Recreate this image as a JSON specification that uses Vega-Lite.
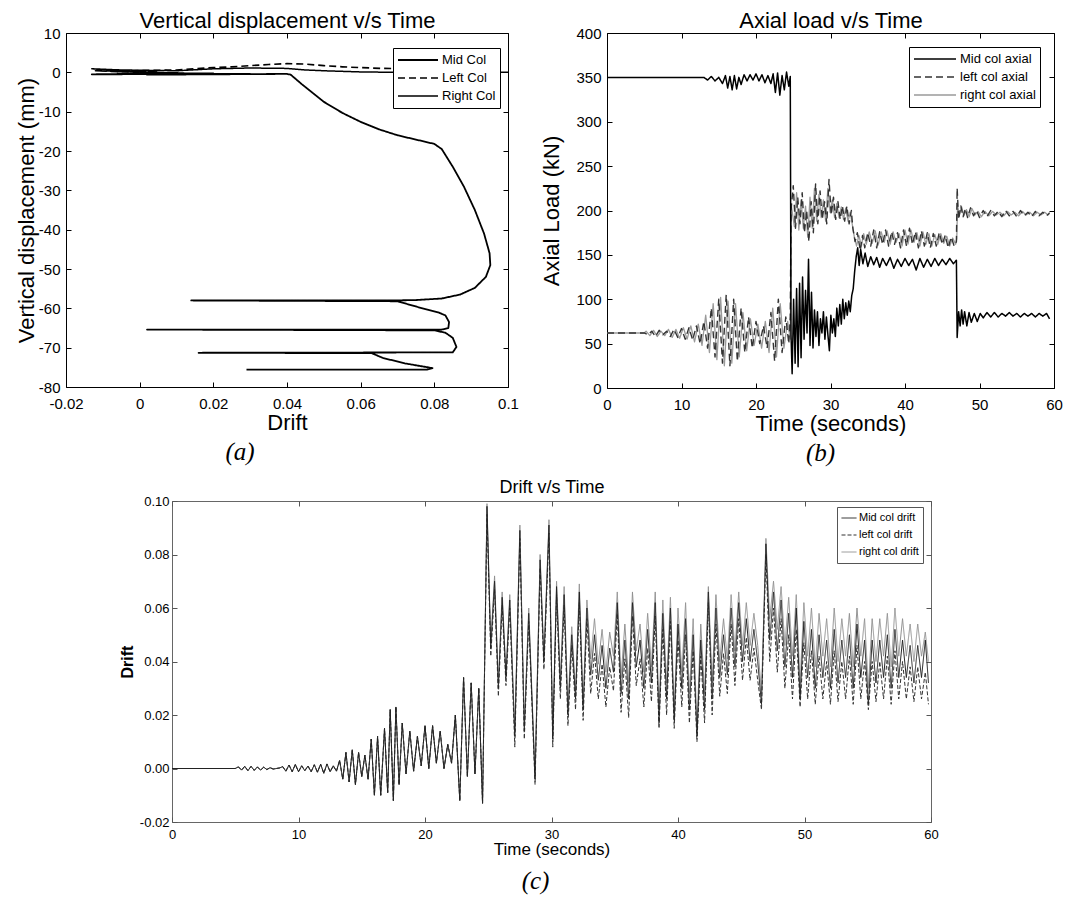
{
"$schema": "https://vega.github.io/schema/vega-lite/v6.json",
"background": "white",
"padding": {"left": 14, "top": 9, "right": 0, "bottom": 0},
"config": {
  "font": "Liberation Sans",
  "view": {"stroke": "black"},
  "axis": {"grid": false, "domain": false, "tickColor": "black", "tickSize": -5, "tickWidth": 1, "labelColor": "black", "titleColor": "black", "titleFontWeight": "normal", "labelFlush": false, "labelOverlap": false, "labelPadding": 8, "labelFont": "Liberation Sans", "titleFont": "Liberation Sans"},
  "title": {"font": "Liberation Serif", "fontStyle": "italic", "fontWeight": "normal", "fontSize": 25, "color": "black", "orient": "bottom", "anchor": "middle"},
  "legend": {"title": null, "strokeColor": "black", "fillColor": "white", "cornerRadius": 0, "labelColor": "black", "symbolType": "stroke"}
},
"datasets": {
"a": [
{"s":"M","d":0,"v":0},{"s":"M","d":0.012,"v":-0.2},{"s":"M","d":-0.006,"v":-0.3},{"s":"M","d":0.02,"v":-0.3},{"s":"M","d":-0.013,"v":-0.5},{"s":"M","d":0.03,"v":-0.4},{"s":"M","d":0.002,"v":-0.6},{"s":"M","d":0.04,"v":-0.4},{"s":"M","d":0.041,"v":-0.6},{"s":"M","d":0.044,"v":-3},{"s":"M","d":0.05,"v":-7.5},{"s":"M","d":0.055,"v":-10.3},{"s":"M","d":0.06,"v":-12.6},{"s":"M","d":0.065,"v":-14.5},{"s":"M","d":0.07,"v":-16},{"s":"M","d":0.075,"v":-17.1},{"s":"M","d":0.08,"v":-18.2},{"s":"M","d":0.082,"v":-19.5},{"s":"M","d":0.085,"v":-24},{"s":"M","d":0.088,"v":-29},{"s":"M","d":0.091,"v":-35},{"s":"M","d":0.0935,"v":-41},{"s":"M","d":0.095,"v":-46},{"s":"M","d":0.0952,"v":-49},{"s":"M","d":0.094,"v":-52},{"s":"M","d":0.091,"v":-54.8},{"s":"M","d":0.087,"v":-56.5},{"s":"M","d":0.082,"v":-57.5},{"s":"M","d":0.075,"v":-57.9},{"s":"M","d":0.068,"v":-58},{"s":"M","d":0.014,"v":-58},{"s":"M","d":0.07,"v":-58.2},{"s":"M","d":0.076,"v":-59.8},{"s":"M","d":0.081,"v":-61},{"s":"M","d":0.083,"v":-61.8},{"s":"M","d":0.084,"v":-63.5},{"s":"M","d":0.0838,"v":-65},{"s":"M","d":0.082,"v":-65.4},{"s":"M","d":0.002,"v":-65.4},{"s":"M","d":0.08,"v":-65.6},{"s":"M","d":0.083,"v":-66.2},{"s":"M","d":0.085,"v":-67.5},{"s":"M","d":0.086,"v":-69.8},{"s":"M","d":0.085,"v":-71.2},{"s":"M","d":0.016,"v":-71.3},{"s":"M","d":0.063,"v":-71.4},{"s":"M","d":0.066,"v":-72.6},{"s":"M","d":0.072,"v":-74},{"s":"M","d":0.0795,"v":-75.2},{"s":"M","d":0.078,"v":-75.6},{"s":"M","d":0.029,"v":-75.6},
{"s":"L","d":0,"v":0},{"s":"L","d":-0.012,"v":0.4},{"s":"L","d":0.005,"v":0.2},{"s":"L","d":-0.008,"v":0.3},{"s":"L","d":0.01,"v":0.6},{"s":"L","d":0.015,"v":0.9},{"s":"L","d":0.02,"v":1.2},{"s":"L","d":0.025,"v":1.4},{"s":"L","d":0.03,"v":1.7},{"s":"L","d":0.035,"v":2.0},{"s":"L","d":0.04,"v":2.2},{"s":"L","d":0.045,"v":2.1},{"s":"L","d":0.05,"v":1.7},{"s":"L","d":0.055,"v":1.4},{"s":"L","d":0.06,"v":1.2},{"s":"L","d":0.066,"v":1.0},{"s":"L","d":0.08,"v":0.9},{"s":"L","d":0.094,"v":0.8},
{"s":"R","d":0,"v":0},{"s":"R","d":-0.013,"v":0.9},{"s":"R","d":-0.005,"v":0.6},{"s":"R","d":0.01,"v":0.4},{"s":"R","d":0.02,"v":0.9},{"s":"R","d":0.03,"v":1.1},{"s":"R","d":0.04,"v":1.0},{"s":"R","d":0.045,"v":0.6},{"s":"R","d":0.05,"v":0.4},{"s":"R","d":0.06,"v":0.1},{"s":"R","d":0.07,"v":0},{"s":"R","d":0.1,"v":0}
],
"b": [
{"s":"R","t":0,"v":62},{"s":"R","t":5,"v":62},{"s":"R","t":5.25,"v":64},{"s":"R","t":5.75,"v":59},{"s":"R","t":6.25,"v":65},{"s":"R","t":6.75,"v":58},{"s":"R","t":7.25,"v":64},{"s":"R","t":7.75,"v":59},{"s":"R","t":8.25,"v":66},{"s":"R","t":8.75,"v":57},{"s":"R","t":9.25,"v":66},{"s":"R","t":9.75,"v":56},{"s":"R","t":10.25,"v":68},{"s":"R","t":10.75,"v":55},{"s":"R","t":11.25,"v":70},{"s":"R","t":11.75,"v":52},{"s":"R","t":12.25,"v":72},{"s":"R","t":12.75,"v":48},{"s":"R","t":13.25,"v":82},{"s":"R","t":13.75,"v":40},{"s":"R","t":14.25,"v":95},{"s":"R","t":14.75,"v":32},{"s":"R","t":15.25,"v":102},{"s":"R","t":15.75,"v":25},{"s":"R","t":16.25,"v":98},{"s":"R","t":16.75,"v":28},{"s":"R","t":17.25,"v":95},{"s":"R","t":17.75,"v":35},{"s":"R","t":18.25,"v":85},{"s":"R","t":18.75,"v":42},{"s":"R","t":19.25,"v":78},{"s":"R","t":19.75,"v":48},{"s":"R","t":20.25,"v":72},{"s":"R","t":20.75,"v":45},{"s":"R","t":21.25,"v":75},{"s":"R","t":21.75,"v":40},{"s":"R","t":22.25,"v":90},{"s":"R","t":22.75,"v":35},{"s":"R","t":23.25,"v":95},{"s":"R","t":23.75,"v":45},{"s":"R","t":24.25,"v":75},{"s":"R","t":24.6,"v":55},{"s":"R","t":24.75,"v":205},{"s":"R","t":25.15,"v":182},{"s":"R","t":25.45,"v":220},{"s":"R","t":25.75,"v":178},{"s":"R","t":26.05,"v":212},{"s":"R","t":26.35,"v":180},{"s":"R","t":26.65,"v":205},{"s":"R","t":26.95,"v":170},{"s":"R","t":27.25,"v":215},{"s":"R","t":27.55,"v":180},{"s":"R","t":27.85,"v":225},{"s":"R","t":28.15,"v":188},{"s":"R","t":28.45,"v":218},{"s":"R","t":28.75,"v":192},{"s":"R","t":29.05,"v":212},{"s":"R","t":29.35,"v":188},{"s":"R","t":29.65,"v":225},{"s":"R","t":29.95,"v":198},{"s":"R","t":30.25,"v":212},{"s":"R","t":30.55,"v":192},{"s":"R","t":30.85,"v":208},{"s":"R","t":31.15,"v":192},{"s":"R","t":31.45,"v":204},{"s":"R","t":31.75,"v":190},{"s":"R","t":32.05,"v":203},{"s":"R","t":32.35,"v":188},{"s":"R","t":32.65,"v":198},{"s":"R","t":32.95,"v":183},{"s":"R","t":33.2,"v":170},{"s":"R","t":33.5,"v":160},{"s":"R","t":33.8,"v":172},{"s":"R","t":34.15,"v":160},{"s":"R","t":34.45,"v":174},{"s":"R","t":34.8,"v":162},{"s":"R","t":35.2,"v":176},{"s":"R","t":35.6,"v":163},{"s":"R","t":36,"v":177},{"s":"R","t":36.4,"v":161},{"s":"R","t":36.8,"v":176},{"s":"R","t":37.2,"v":164},{"s":"R","t":37.6,"v":177},{"s":"R","t":38,"v":162},{"s":"R","t":38.4,"v":176},{"s":"R","t":38.8,"v":164},{"s":"R","t":39.2,"v":174},{"s":"R","t":39.6,"v":160},{"s":"R","t":40,"v":178},{"s":"R","t":40.4,"v":162},{"s":"R","t":40.8,"v":178},{"s":"R","t":41.2,"v":164},{"s":"R","t":41.6,"v":175},{"s":"R","t":42,"v":160},{"s":"R","t":42.4,"v":176},{"s":"R","t":42.8,"v":162},{"s":"R","t":43.2,"v":174},{"s":"R","t":43.6,"v":160},{"s":"R","t":44,"v":173},{"s":"R","t":44.4,"v":162},{"s":"R","t":44.8,"v":174},{"s":"R","t":45.2,"v":163},{"s":"R","t":45.6,"v":171},{"s":"R","t":46,"v":160},{"s":"R","t":46.4,"v":169},{"s":"R","t":46.8,"v":162},{"s":"R","t":46.95,"v":168},{"s":"R","t":47.05,"v":205},{"s":"R","t":47.3,"v":196},{"s":"R","t":47.6,"v":204},{"s":"R","t":47.9,"v":194},{"s":"R","t":48.25,"v":201},{"s":"R","t":48.6,"v":193},{"s":"R","t":49,"v":202},{"s":"R","t":49.4,"v":195},{"s":"R","t":49.8,"v":199},{"s":"R","t":50.25,"v":193},{"s":"R","t":50.75,"v":199},{"s":"R","t":51.25,"v":194},{"s":"R","t":51.75,"v":199},{"s":"R","t":52.25,"v":195},{"s":"R","t":52.75,"v":198},{"s":"R","t":53.25,"v":194},{"s":"R","t":53.75,"v":199},{"s":"R","t":54.25,"v":195},{"s":"R","t":54.75,"v":198},{"s":"R","t":55.25,"v":194},{"s":"R","t":55.75,"v":199},{"s":"R","t":56.25,"v":195},{"s":"R","t":56.75,"v":198},{"s":"R","t":57.25,"v":194},{"s":"R","t":57.75,"v":198},{"s":"R","t":58.25,"v":195},{"s":"R","t":58.75,"v":198},{"s":"R","t":59.2,"v":195},{"s":"R","t":59.4,"v":198},
{"s":"L","t":0,"v":62},{"s":"L","t":5,"v":62},{"s":"L","t":5.5,"v":60},{"s":"L","t":6,"v":64},{"s":"L","t":6.5,"v":58},{"s":"L","t":7,"v":65},{"s":"L","t":7.5,"v":60},{"s":"L","t":8,"v":64},{"s":"L","t":8.5,"v":58},{"s":"L","t":9,"v":66},{"s":"L","t":9.5,"v":57},{"s":"L","t":10,"v":67},{"s":"L","t":10.5,"v":55},{"s":"L","t":11,"v":68},{"s":"L","t":11.5,"v":54},{"s":"L","t":12,"v":70},{"s":"L","t":12.5,"v":50},{"s":"L","t":13,"v":75},{"s":"L","t":13.5,"v":45},{"s":"L","t":14,"v":90},{"s":"L","t":14.5,"v":35},{"s":"L","t":15,"v":100},{"s":"L","t":15.5,"v":28},{"s":"L","t":16,"v":105},{"s":"L","t":16.5,"v":25},{"s":"L","t":17,"v":100},{"s":"L","t":17.5,"v":30},{"s":"L","t":18,"v":90},{"s":"L","t":18.5,"v":40},{"s":"L","t":19,"v":80},{"s":"L","t":19.5,"v":45},{"s":"L","t":20,"v":75},{"s":"L","t":20.5,"v":50},{"s":"L","t":21,"v":70},{"s":"L","t":21.5,"v":45},{"s":"L","t":22,"v":85},{"s":"L","t":22.5,"v":30},{"s":"L","t":23,"v":100},{"s":"L","t":23.5,"v":40},{"s":"L","t":24,"v":80},{"s":"L","t":24.4,"v":50},{"s":"L","t":24.6,"v":80},{"s":"L","t":24.7,"v":200},{"s":"L","t":25,"v":228},{"s":"L","t":25.3,"v":180},{"s":"L","t":25.6,"v":215},{"s":"L","t":25.9,"v":185},{"s":"L","t":26.2,"v":220},{"s":"L","t":26.5,"v":175},{"s":"L","t":26.8,"v":200},{"s":"L","t":27.1,"v":165},{"s":"L","t":27.4,"v":210},{"s":"L","t":27.7,"v":175},{"s":"L","t":28,"v":230},{"s":"L","t":28.3,"v":185},{"s":"L","t":28.6,"v":222},{"s":"L","t":28.9,"v":190},{"s":"L","t":29.2,"v":210},{"s":"L","t":29.5,"v":185},{"s":"L","t":29.8,"v":235},{"s":"L","t":30.1,"v":195},{"s":"L","t":30.4,"v":215},{"s":"L","t":30.7,"v":190},{"s":"L","t":31,"v":210},{"s":"L","t":31.3,"v":190},{"s":"L","t":31.6,"v":205},{"s":"L","t":31.9,"v":188},{"s":"L","t":32.2,"v":205},{"s":"L","t":32.5,"v":185},{"s":"L","t":32.8,"v":200},{"s":"L","t":33,"v":180},{"s":"L","t":33.3,"v":165},{"s":"L","t":33.6,"v":175},{"s":"L","t":34,"v":155},{"s":"L","t":34.3,"v":172},{"s":"L","t":34.6,"v":158},{"s":"L","t":35,"v":175},{"s":"L","t":35.4,"v":160},{"s":"L","t":35.8,"v":178},{"s":"L","t":36.2,"v":158},{"s":"L","t":36.6,"v":176},{"s":"L","t":37,"v":162},{"s":"L","t":37.4,"v":178},{"s":"L","t":37.8,"v":160},{"s":"L","t":38.2,"v":176},{"s":"L","t":38.6,"v":162},{"s":"L","t":39,"v":175},{"s":"L","t":39.4,"v":158},{"s":"L","t":39.8,"v":178},{"s":"L","t":40.2,"v":160},{"s":"L","t":40.6,"v":180},{"s":"L","t":41,"v":162},{"s":"L","t":41.4,"v":176},{"s":"L","t":41.8,"v":158},{"s":"L","t":42.2,"v":177},{"s":"L","t":42.6,"v":160},{"s":"L","t":43,"v":175},{"s":"L","t":43.4,"v":158},{"s":"L","t":43.8,"v":174},{"s":"L","t":44.2,"v":160},{"s":"L","t":44.6,"v":175},{"s":"L","t":45,"v":162},{"s":"L","t":45.4,"v":172},{"s":"L","t":45.8,"v":158},{"s":"L","t":46.2,"v":170},{"s":"L","t":46.6,"v":160},{"s":"L","t":46.9,"v":165},{"s":"L","t":47,"v":225},{"s":"L","t":47.2,"v":190},{"s":"L","t":47.5,"v":205},{"s":"L","t":47.8,"v":193},{"s":"L","t":48.1,"v":202},{"s":"L","t":48.4,"v":192},{"s":"L","t":48.8,"v":203},{"s":"L","t":49.2,"v":194},{"s":"L","t":49.6,"v":200},{"s":"L","t":50,"v":192},{"s":"L","t":50.5,"v":200},{"s":"L","t":51,"v":193},{"s":"L","t":51.5,"v":200},{"s":"L","t":52,"v":194},{"s":"L","t":52.5,"v":199},{"s":"L","t":53,"v":193},{"s":"L","t":53.5,"v":200},{"s":"L","t":54,"v":194},{"s":"L","t":54.5,"v":199},{"s":"L","t":55,"v":193},{"s":"L","t":55.5,"v":200},{"s":"L","t":56,"v":194},{"s":"L","t":56.5,"v":198},{"s":"L","t":57,"v":193},{"s":"L","t":57.5,"v":199},{"s":"L","t":58,"v":194},{"s":"L","t":58.5,"v":198},{"s":"L","t":59,"v":194},{"s":"L","t":59.4,"v":197},
{"s":"M","t":0,"v":350},{"s":"M","t":13,"v":350},{"s":"M","t":13.5,"v":347},{"s":"M","t":14,"v":351},{"s":"M","t":14.5,"v":346},{"s":"M","t":15,"v":350},{"s":"M","t":15.5,"v":343},{"s":"M","t":15.9,"v":352},{"s":"M","t":16.2,"v":338},{"s":"M","t":16.5,"v":351},{"s":"M","t":16.8,"v":336},{"s":"M","t":17.1,"v":352},{"s":"M","t":17.4,"v":337},{"s":"M","t":17.7,"v":350},{"s":"M","t":18,"v":342},{"s":"M","t":18.4,"v":353},{"s":"M","t":18.8,"v":346},{"s":"M","t":19.2,"v":353},{"s":"M","t":19.6,"v":347},{"s":"M","t":20,"v":354},{"s":"M","t":20.4,"v":346},{"s":"M","t":20.8,"v":353},{"s":"M","t":21.2,"v":344},{"s":"M","t":21.6,"v":352},{"s":"M","t":22,"v":343},{"s":"M","t":22.3,"v":354},{"s":"M","t":22.6,"v":333},{"s":"M","t":22.9,"v":355},{"s":"M","t":23.2,"v":330},{"s":"M","t":23.5,"v":352},{"s":"M","t":23.8,"v":336},{"s":"M","t":24.1,"v":356},{"s":"M","t":24.4,"v":340},{"s":"M","t":24.6,"v":351},{"s":"M","t":24.7,"v":60},{"s":"M","t":24.85,"v":16},{"s":"M","t":25.05,"v":100},{"s":"M","t":25.25,"v":28},{"s":"M","t":25.45,"v":112},{"s":"M","t":25.65,"v":24},{"s":"M","t":25.85,"v":118},{"s":"M","t":26.05,"v":34},{"s":"M","t":26.25,"v":125},{"s":"M","t":26.45,"v":55},{"s":"M","t":26.65,"v":110},{"s":"M","t":26.85,"v":62},{"s":"M","t":27.05,"v":145},{"s":"M","t":27.25,"v":48},{"s":"M","t":27.45,"v":108},{"s":"M","t":27.65,"v":45},{"s":"M","t":27.85,"v":88},{"s":"M","t":28.05,"v":58},{"s":"M","t":28.25,"v":86},{"s":"M","t":28.45,"v":48},{"s":"M","t":28.65,"v":78},{"s":"M","t":28.85,"v":62},{"s":"M","t":29.05,"v":86},{"s":"M","t":29.25,"v":55},{"s":"M","t":29.45,"v":80},{"s":"M","t":29.65,"v":60},{"s":"M","t":29.85,"v":42},{"s":"M","t":30.05,"v":82},{"s":"M","t":30.25,"v":62},{"s":"M","t":30.45,"v":78},{"s":"M","t":30.65,"v":58},{"s":"M","t":30.85,"v":90},{"s":"M","t":31.05,"v":70},{"s":"M","t":31.25,"v":94},{"s":"M","t":31.45,"v":72},{"s":"M","t":31.65,"v":100},{"s":"M","t":31.85,"v":78},{"s":"M","t":32.05,"v":96},{"s":"M","t":32.25,"v":82},{"s":"M","t":32.45,"v":98},{"s":"M","t":32.65,"v":86},{"s":"M","t":32.85,"v":104},{"s":"M","t":33.05,"v":112},{"s":"M","t":33.25,"v":132},{"s":"M","t":33.45,"v":148},{"s":"M","t":33.65,"v":158},{"s":"M","t":33.85,"v":138},{"s":"M","t":34.05,"v":156},{"s":"M","t":34.35,"v":140},{"s":"M","t":34.65,"v":152},{"s":"M","t":35,"v":137},{"s":"M","t":35.4,"v":148},{"s":"M","t":35.8,"v":139},{"s":"M","t":36.2,"v":147},{"s":"M","t":36.6,"v":136},{"s":"M","t":37,"v":146},{"s":"M","t":37.5,"v":138},{"s":"M","t":38,"v":147},{"s":"M","t":38.5,"v":135},{"s":"M","t":39,"v":145},{"s":"M","t":39.5,"v":137},{"s":"M","t":40,"v":146},{"s":"M","t":40.5,"v":138},{"s":"M","t":41,"v":145},{"s":"M","t":41.5,"v":133},{"s":"M","t":42,"v":146},{"s":"M","t":42.5,"v":136},{"s":"M","t":43,"v":145},{"s":"M","t":43.5,"v":137},{"s":"M","t":44,"v":146},{"s":"M","t":44.5,"v":138},{"s":"M","t":45,"v":145},{"s":"M","t":45.5,"v":139},{"s":"M","t":46,"v":146},{"s":"M","t":46.5,"v":140},{"s":"M","t":46.9,"v":144},{"s":"M","t":47,"v":57},{"s":"M","t":47.2,"v":86},{"s":"M","t":47.4,"v":70},{"s":"M","t":47.6,"v":88},{"s":"M","t":47.8,"v":72},{"s":"M","t":48,"v":86},{"s":"M","t":48.3,"v":70},{"s":"M","t":48.6,"v":85},{"s":"M","t":48.9,"v":74},{"s":"M","t":49.3,"v":84},{"s":"M","t":49.7,"v":75},{"s":"M","t":50.1,"v":84},{"s":"M","t":50.5,"v":79},{"s":"M","t":51,"v":85},{"s":"M","t":51.5,"v":80},{"s":"M","t":52,"v":85},{"s":"M","t":52.5,"v":80},{"s":"M","t":53,"v":84},{"s":"M","t":53.5,"v":81},{"s":"M","t":54,"v":85},{"s":"M","t":54.5,"v":81},{"s":"M","t":55,"v":84},{"s":"M","t":55.5,"v":80},{"s":"M","t":56,"v":84},{"s":"M","t":56.5,"v":81},{"s":"M","t":57,"v":84},{"s":"M","t":57.5,"v":80},{"s":"M","t":58,"v":84},{"s":"M","t":58.5,"v":81},{"s":"M","t":59,"v":84},{"s":"M","t":59.4,"v":78}
],
"c": [
{"s":"R","t":0,"v":0},{"s":"R","t":5,"v":0},{"s":"R","t":5.25,"v":0.0006},{"s":"R","t":5.5,"v":-0.0006},{"s":"R","t":5.75,"v":0.0008},{"s":"R","t":6,"v":-0.0008},{"s":"R","t":6.25,"v":0.0008},{"s":"R","t":6.5,"v":-0.0007},{"s":"R","t":6.75,"v":0.0006},{"s":"R","t":7,"v":-0.0006},{"s":"R","t":7.25,"v":0.0005},{"s":"R","t":7.5,"v":-0.0004},{"s":"R","t":7.75,"v":0.0003},{"s":"R","t":8,"v":-0.0002},{"s":"R","t":8.5,"v":0.0002},{"s":"R","t":8.75,"v":0.0007},{"s":"R","t":9,"v":-0.001},{"s":"R","t":9.25,"v":0.0013},{"s":"R","t":9.5,"v":-0.0012},{"s":"R","t":9.75,"v":0.0015},{"s":"R","t":10,"v":-0.0012},{"s":"R","t":10.25,"v":0.001},{"s":"R","t":10.5,"v":-0.0008},{"s":"R","t":10.75,"v":0.0009},{"s":"R","t":11,"v":-0.0012},{"s":"R","t":11.25,"v":0.0014},{"s":"R","t":11.5,"v":-0.0014},{"s":"R","t":11.75,"v":0.0016},{"s":"R","t":12,"v":-0.0018},{"s":"R","t":12.25,"v":0.0017},{"s":"R","t":12.5,"v":-0.0012},{"s":"R","t":12.75,"v":0.001},{"s":"R","t":13,"v":-0.001},{"s":"R","t":13.25,"v":0.003},{"s":"R","t":13.5,"v":-0.004},{"s":"R","t":13.75,"v":0.006},{"s":"R","t":14,"v":-0.005},{"s":"R","t":14.25,"v":0.007},{"s":"R","t":14.5,"v":-0.006},{"s":"R","t":14.75,"v":0.006},{"s":"R","t":15,"v":-0.003},{"s":"R","t":15.25,"v":0.005},{"s":"R","t":15.5,"v":-0.004},{"s":"R","t":15.75,"v":0.011},{"s":"R","t":16,"v":-0.01},{"s":"R","t":16.25,"v":0.012},{"s":"R","t":16.5,"v":-0.01},{"s":"R","t":16.8,"v":0.015},{"s":"R","t":17.05,"v":-0.009},{"s":"R","t":17.25,"v":0.022},{"s":"R","t":17.5,"v":-0.012},{"s":"R","t":17.7,"v":0.023},{"s":"R","t":17.95,"v":-0.006},{"s":"R","t":18.2,"v":0.017},{"s":"R","t":18.5,"v":-0.002},{"s":"R","t":18.8,"v":0.014},{"s":"R","t":19.1,"v":-0.001},{"s":"R","t":19.4,"v":0.012},{"s":"R","t":19.7,"v":0.001},{"s":"R","t":20,"v":0.016},{"s":"R","t":20.3,"v":0},{"s":"R","t":20.6,"v":0.016},{"s":"R","t":20.9,"v":0.002},{"s":"R","t":21.2,"v":0.014},{"s":"R","t":21.5,"v":0},{"s":"R","t":21.8,"v":0.009},{"s":"R","t":22.1,"v":0.002},{"s":"R","t":22.4,"v":0.02},{"s":"R","t":22.75,"v":-0.012},{"s":"R","t":23.05,"v":0.034},{"s":"R","t":23.35,"v":-0.003},{"s":"R","t":23.65,"v":0.032},{"s":"R","t":23.95,"v":-0.002},{"s":"R","t":24.25,"v":0.03},{"s":"R","t":24.55,"v":-0.013},
{"s":"R","t":24.9,"v":0.099},{"s":"R","t":25.2,"v":0.047},{"s":"R","t":25.5,"v":0.072},{"s":"R","t":25.8,"v":0.032},{"s":"R","t":26.1,"v":0.066},{"s":"R","t":26.4,"v":0.036},{"s":"R","t":26.7,"v":0.065},{"s":"R","t":27.1,"v":0.014},{"s":"R","t":27.5,"v":0.091},{"s":"R","t":27.85,"v":0.016},{"s":"R","t":28.2,"v":0.06},{"s":"R","t":28.7,"v":-0.002},{"s":"R","t":29.1,"v":0.08},{"s":"R","t":29.4,"v":0.042},{"s":"R","t":29.8,"v":0.093},{"s":"R","t":30.1,"v":0.013},{"s":"R","t":30.4,"v":0.07},{"s":"R","t":30.7,"v":0.033},{"s":"R","t":31,"v":0.068},{"s":"R","t":31.3,"v":0.023},{"s":"R","t":31.6,"v":0.053},{"s":"R","t":31.9,"v":0.029},{"s":"R","t":32.2,"v":0.069},{"s":"R","t":32.5,"v":0.025},{"s":"R","t":32.8,"v":0.063},{"s":"R","t":33.1,"v":0.041},{"s":"R","t":33.4,"v":0.056},{"s":"R","t":33.7,"v":0.039},{"s":"R","t":34,"v":0.052},{"s":"R","t":34.3,"v":0.036},{"s":"R","t":34.6,"v":0.051},{"s":"R","t":34.9,"v":0.042},{"s":"R","t":35.2,"v":0.066},{"s":"R","t":35.5,"v":0.034},{"s":"R","t":35.8,"v":0.054},{"s":"R","t":36.1,"v":0.032},{"s":"R","t":36.4,"v":0.066},{"s":"R","t":36.7,"v":0.044},{"s":"R","t":37,"v":0.054},{"s":"R","t":37.3,"v":0.036},{"s":"R","t":37.6,"v":0.058},{"s":"R","t":37.9,"v":0.038},{"s":"R","t":38.2,"v":0.066},{"s":"R","t":38.5,"v":0.022},{"s":"R","t":38.8,"v":0.063},{"s":"R","t":39.1,"v":0.032},{"s":"R","t":39.4,"v":0.064},{"s":"R","t":39.7,"v":0.022},{"s":"R","t":40,"v":0.06},{"s":"R","t":40.3,"v":0.036},{"s":"R","t":40.6,"v":0.062},{"s":"R","t":40.9,"v":0.028},{"s":"R","t":41.2,"v":0.056},{"s":"R","t":41.5,"v":0.016},{"s":"R","t":41.8,"v":0.054},{"s":"R","t":42.1,"v":0.028},{"s":"R","t":42.4,"v":0.068},{"s":"R","t":42.7,"v":0.032},{"s":"R","t":43,"v":0.065},{"s":"R","t":43.3,"v":0.04},{"s":"R","t":43.6,"v":0.056},{"s":"R","t":43.9,"v":0.041},{"s":"R","t":44.2,"v":0.065},{"s":"R","t":44.5,"v":0.044},{"s":"R","t":44.8,"v":0.066},{"s":"R","t":45.1,"v":0.046},{"s":"R","t":45.4,"v":0.062},{"s":"R","t":45.7,"v":0.046},{"s":"R","t":46,"v":0.058},{"s":"R","t":46.3,"v":0.046},{"s":"R","t":46.6,"v":0.028},{"s":"R","t":46.95,"v":0.086},{"s":"R","t":47.25,"v":0.056},{"s":"R","t":47.55,"v":0.07},{"s":"R","t":47.85,"v":0.052},{"s":"R","t":48.15,"v":0.068},{"s":"R","t":48.45,"v":0.046},{"s":"R","t":48.75,"v":0.064},{"s":"R","t":49.05,"v":0.042},{"s":"R","t":49.35,"v":0.065},{"s":"R","t":49.65,"v":0.032},{"s":"R","t":49.95,"v":0.062},{"s":"R","t":50.25,"v":0.042},{"s":"R","t":50.55,"v":0.06},{"s":"R","t":50.85,"v":0.038},{"s":"R","t":51.15,"v":0.058},{"s":"R","t":51.45,"v":0.042},{"s":"R","t":51.75,"v":0.056},{"s":"R","t":52.05,"v":0.038},{"s":"R","t":52.35,"v":0.06},{"s":"R","t":52.65,"v":0.04},{"s":"R","t":52.95,"v":0.056},{"s":"R","t":53.25,"v":0.042},{"s":"R","t":53.55,"v":0.058},{"s":"R","t":53.85,"v":0.038},{"s":"R","t":54.15,"v":0.06},{"s":"R","t":54.45,"v":0.042},{"s":"R","t":54.75,"v":0.056},{"s":"R","t":55.05,"v":0.03},{"s":"R","t":55.35,"v":0.056},{"s":"R","t":55.65,"v":0.04},{"s":"R","t":55.95,"v":0.056},{"s":"R","t":56.25,"v":0.042},{"s":"R","t":56.55,"v":0.058},{"s":"R","t":56.85,"v":0.038},{"s":"R","t":57.15,"v":0.06},{"s":"R","t":57.45,"v":0.042},{"s":"R","t":57.75,"v":0.056},{"s":"R","t":58.05,"v":0.042},{"s":"R","t":58.35,"v":0.054},{"s":"R","t":58.65,"v":0.04},{"s":"R","t":58.95,"v":0.054},{"s":"R","t":59.25,"v":0.042},{"s":"R","t":59.55,"v":0.051},{"s":"R","t":59.8,"v":0.04},
{"s":"L","t":0,"v":0},{"s":"L","t":5,"v":0},{"s":"L","t":5.25,"v":0.0006},{"s":"L","t":5.5,"v":-0.0006},{"s":"L","t":5.75,"v":0.0008},{"s":"L","t":6,"v":-0.0008},{"s":"L","t":6.25,"v":0.0008},{"s":"L","t":6.5,"v":-0.0007},{"s":"L","t":6.75,"v":0.0006},{"s":"L","t":7,"v":-0.0006},{"s":"L","t":7.25,"v":0.0005},{"s":"L","t":7.5,"v":-0.0004},{"s":"L","t":7.75,"v":0.0003},{"s":"L","t":8,"v":-0.0002},{"s":"L","t":8.5,"v":0.0002},{"s":"L","t":8.75,"v":0.0007},{"s":"L","t":9,"v":-0.001},{"s":"L","t":9.25,"v":0.0013},{"s":"L","t":9.5,"v":-0.0012},{"s":"L","t":9.75,"v":0.0015},{"s":"L","t":10,"v":-0.0012},{"s":"L","t":10.25,"v":0.001},{"s":"L","t":10.5,"v":-0.0008},{"s":"L","t":10.75,"v":0.0009},{"s":"L","t":11,"v":-0.0012},{"s":"L","t":11.25,"v":0.0014},{"s":"L","t":11.5,"v":-0.0014},{"s":"L","t":11.75,"v":0.0016},{"s":"L","t":12,"v":-0.0018},{"s":"L","t":12.25,"v":0.0017},{"s":"L","t":12.5,"v":-0.0012},{"s":"L","t":12.75,"v":0.001},{"s":"L","t":13,"v":-0.001},{"s":"L","t":13.25,"v":0.003},{"s":"L","t":13.5,"v":-0.004},{"s":"L","t":13.75,"v":0.006},{"s":"L","t":14,"v":-0.005},{"s":"L","t":14.25,"v":0.007},{"s":"L","t":14.5,"v":-0.006},{"s":"L","t":14.75,"v":0.006},{"s":"L","t":15,"v":-0.003},{"s":"L","t":15.25,"v":0.005},{"s":"L","t":15.5,"v":-0.004},{"s":"L","t":15.75,"v":0.011},{"s":"L","t":16,"v":-0.01},{"s":"L","t":16.25,"v":0.012},{"s":"L","t":16.5,"v":-0.01},{"s":"L","t":16.8,"v":0.015},{"s":"L","t":17.05,"v":-0.009},{"s":"L","t":17.25,"v":0.022},{"s":"L","t":17.5,"v":-0.012},{"s":"L","t":17.7,"v":0.023},{"s":"L","t":17.95,"v":-0.006},{"s":"L","t":18.2,"v":0.017},{"s":"L","t":18.5,"v":-0.002},{"s":"L","t":18.8,"v":0.014},{"s":"L","t":19.1,"v":-0.001},{"s":"L","t":19.4,"v":0.012},{"s":"L","t":19.7,"v":0.001},{"s":"L","t":20,"v":0.016},{"s":"L","t":20.3,"v":0},{"s":"L","t":20.6,"v":0.016},{"s":"L","t":20.9,"v":0.002},{"s":"L","t":21.2,"v":0.014},{"s":"L","t":21.5,"v":0},{"s":"L","t":21.8,"v":0.009},{"s":"L","t":22.1,"v":0.002},{"s":"L","t":22.4,"v":0.02},{"s":"L","t":22.75,"v":-0.012},{"s":"L","t":23.05,"v":0.034},{"s":"L","t":23.35,"v":-0.003},{"s":"L","t":23.65,"v":0.032},{"s":"L","t":23.95,"v":-0.002},{"s":"L","t":24.25,"v":0.03},{"s":"L","t":24.55,"v":-0.013},
{"s":"L","t":24.9,"v":0.095},{"s":"L","t":25.2,"v":0.042},{"s":"L","t":25.5,"v":0.067},{"s":"L","t":25.8,"v":0.027},{"s":"L","t":26.1,"v":0.061},{"s":"L","t":26.4,"v":0.031},{"s":"L","t":26.7,"v":0.06},{"s":"L","t":27.1,"v":0.008},{"s":"L","t":27.5,"v":0.086},{"s":"L","t":27.85,"v":0.011},{"s":"L","t":28.2,"v":0.055},{"s":"L","t":28.7,"v":-0.006},{"s":"L","t":29.1,"v":0.075},{"s":"L","t":29.4,"v":0.037},{"s":"L","t":29.8,"v":0.088},{"s":"L","t":30.1,"v":0.008},{"s":"L","t":30.4,"v":0.065},{"s":"L","t":30.7,"v":0.026},{"s":"L","t":31,"v":0.061},{"s":"L","t":31.3,"v":0.016},{"s":"L","t":31.6,"v":0.046},{"s":"L","t":31.9,"v":0.022},{"s":"L","t":32.2,"v":0.062},{"s":"L","t":32.5,"v":0.018},{"s":"L","t":32.8,"v":0.056},{"s":"L","t":33.1,"v":0.028},{"s":"L","t":33.4,"v":0.043},{"s":"L","t":33.7,"v":0.026},{"s":"L","t":34,"v":0.039},{"s":"L","t":34.3,"v":0.023},{"s":"L","t":34.6,"v":0.038},{"s":"L","t":34.9,"v":0.029},{"s":"L","t":35.2,"v":0.058},{"s":"L","t":35.5,"v":0.021},{"s":"L","t":35.8,"v":0.041},{"s":"L","t":36.1,"v":0.019},{"s":"L","t":36.4,"v":0.057},{"s":"L","t":36.7,"v":0.031},{"s":"L","t":37,"v":0.041},{"s":"L","t":37.3,"v":0.023},{"s":"L","t":37.6,"v":0.045},{"s":"L","t":37.9,"v":0.025},{"s":"L","t":38.2,"v":0.057},{"s":"L","t":38.5,"v":0.015},{"s":"L","t":38.8,"v":0.052},{"s":"L","t":39.1,"v":0.02},{"s":"L","t":39.4,"v":0.055},{"s":"L","t":39.7,"v":0.015},{"s":"L","t":40,"v":0.048},{"s":"L","t":40.3,"v":0.023},{"s":"L","t":40.6,"v":0.05},{"s":"L","t":40.9,"v":0.017},{"s":"L","t":41.2,"v":0.044},{"s":"L","t":41.5,"v":0.01},{"s":"L","t":41.8,"v":0.042},{"s":"L","t":42.1,"v":0.017},{"s":"L","t":42.4,"v":0.062},{"s":"L","t":42.7,"v":0.02},{"s":"L","t":43,"v":0.054},{"s":"L","t":43.3,"v":0.027},{"s":"L","t":43.6,"v":0.043},{"s":"L","t":43.9,"v":0.028},{"s":"L","t":44.2,"v":0.054},{"s":"L","t":44.5,"v":0.031},{"s":"L","t":44.8,"v":0.056},{"s":"L","t":45.1,"v":0.033},{"s":"L","t":45.4,"v":0.049},{"s":"L","t":45.7,"v":0.033},{"s":"L","t":46,"v":0.045},{"s":"L","t":46.3,"v":0.033},{"s":"L","t":46.6,"v":0.022},{"s":"L","t":46.95,"v":0.08},{"s":"L","t":47.25,"v":0.04},{"s":"L","t":47.55,"v":0.06},{"s":"L","t":47.85,"v":0.036},{"s":"L","t":48.15,"v":0.056},{"s":"L","t":48.45,"v":0.03},{"s":"L","t":48.75,"v":0.05},{"s":"L","t":49.05,"v":0.026},{"s":"L","t":49.35,"v":0.052},{"s":"L","t":49.65,"v":0.023},{"s":"L","t":49.95,"v":0.047},{"s":"L","t":50.25,"v":0.026},{"s":"L","t":50.55,"v":0.044},{"s":"L","t":50.85,"v":0.024},{"s":"L","t":51.15,"v":0.042},{"s":"L","t":51.45,"v":0.026},{"s":"L","t":51.75,"v":0.04},{"s":"L","t":52.05,"v":0.024},{"s":"L","t":52.35,"v":0.044},{"s":"L","t":52.65,"v":0.025},{"s":"L","t":52.95,"v":0.04},{"s":"L","t":53.25,"v":0.026},{"s":"L","t":53.55,"v":0.042},{"s":"L","t":53.85,"v":0.024},{"s":"L","t":54.15,"v":0.046},{"s":"L","t":54.45,"v":0.026},{"s":"L","t":54.75,"v":0.04},{"s":"L","t":55.05,"v":0.022},{"s":"L","t":55.35,"v":0.04},{"s":"L","t":55.65,"v":0.025},{"s":"L","t":55.95,"v":0.04},{"s":"L","t":56.25,"v":0.026},{"s":"L","t":56.55,"v":0.042},{"s":"L","t":56.85,"v":0.024},{"s":"L","t":57.15,"v":0.044},{"s":"L","t":57.45,"v":0.026},{"s":"L","t":57.75,"v":0.04},{"s":"L","t":58.05,"v":0.026},{"s":"L","t":58.35,"v":0.038},{"s":"L","t":58.65,"v":0.025},{"s":"L","t":58.95,"v":0.038},{"s":"L","t":59.25,"v":0.026},{"s":"L","t":59.55,"v":0.036},{"s":"L","t":59.8,"v":0.024},
{"s":"M","t":0,"v":0},{"s":"M","t":5,"v":0},{"s":"M","t":5.25,"v":0.0006},{"s":"M","t":5.5,"v":-0.0006},{"s":"M","t":5.75,"v":0.0008},{"s":"M","t":6,"v":-0.0008},{"s":"M","t":6.25,"v":0.0008},{"s":"M","t":6.5,"v":-0.0007},{"s":"M","t":6.75,"v":0.0006},{"s":"M","t":7,"v":-0.0006},{"s":"M","t":7.25,"v":0.0005},{"s":"M","t":7.5,"v":-0.0004},{"s":"M","t":7.75,"v":0.0003},{"s":"M","t":8,"v":-0.0002},{"s":"M","t":8.5,"v":0.0002},{"s":"M","t":8.75,"v":0.0007},{"s":"M","t":9,"v":-0.001},{"s":"M","t":9.25,"v":0.0013},{"s":"M","t":9.5,"v":-0.0012},{"s":"M","t":9.75,"v":0.0015},{"s":"M","t":10,"v":-0.0012},{"s":"M","t":10.25,"v":0.001},{"s":"M","t":10.5,"v":-0.0008},{"s":"M","t":10.75,"v":0.0009},{"s":"M","t":11,"v":-0.0012},{"s":"M","t":11.25,"v":0.0014},{"s":"M","t":11.5,"v":-0.0014},{"s":"M","t":11.75,"v":0.0016},{"s":"M","t":12,"v":-0.0018},{"s":"M","t":12.25,"v":0.0017},{"s":"M","t":12.5,"v":-0.0012},{"s":"M","t":12.75,"v":0.001},{"s":"M","t":13,"v":-0.001},{"s":"M","t":13.25,"v":0.003},{"s":"M","t":13.5,"v":-0.004},{"s":"M","t":13.75,"v":0.006},{"s":"M","t":14,"v":-0.005},{"s":"M","t":14.25,"v":0.007},{"s":"M","t":14.5,"v":-0.006},{"s":"M","t":14.75,"v":0.006},{"s":"M","t":15,"v":-0.003},{"s":"M","t":15.25,"v":0.005},{"s":"M","t":15.5,"v":-0.004},{"s":"M","t":15.75,"v":0.011},{"s":"M","t":16,"v":-0.01},{"s":"M","t":16.25,"v":0.012},{"s":"M","t":16.5,"v":-0.01},{"s":"M","t":16.8,"v":0.015},{"s":"M","t":17.05,"v":-0.009},{"s":"M","t":17.25,"v":0.022},{"s":"M","t":17.5,"v":-0.012},{"s":"M","t":17.7,"v":0.023},{"s":"M","t":17.95,"v":-0.006},{"s":"M","t":18.2,"v":0.017},{"s":"M","t":18.5,"v":-0.002},{"s":"M","t":18.8,"v":0.014},{"s":"M","t":19.1,"v":-0.001},{"s":"M","t":19.4,"v":0.012},{"s":"M","t":19.7,"v":0.001},{"s":"M","t":20,"v":0.016},{"s":"M","t":20.3,"v":0},{"s":"M","t":20.6,"v":0.016},{"s":"M","t":20.9,"v":0.002},{"s":"M","t":21.2,"v":0.014},{"s":"M","t":21.5,"v":0},{"s":"M","t":21.8,"v":0.009},{"s":"M","t":22.1,"v":0.002},{"s":"M","t":22.4,"v":0.02},{"s":"M","t":22.75,"v":-0.012},{"s":"M","t":23.05,"v":0.034},{"s":"M","t":23.35,"v":-0.003},{"s":"M","t":23.65,"v":0.032},{"s":"M","t":23.95,"v":-0.002},{"s":"M","t":24.25,"v":0.03},{"s":"M","t":24.55,"v":-0.013},
{"s":"M","t":24.9,"v":0.098},{"s":"M","t":25.2,"v":0.045},{"s":"M","t":25.5,"v":0.07},{"s":"M","t":25.8,"v":0.03},{"s":"M","t":26.1,"v":0.064},{"s":"M","t":26.4,"v":0.034},{"s":"M","t":26.7,"v":0.063},{"s":"M","t":27.1,"v":0.012},{"s":"M","t":27.5,"v":0.089},{"s":"M","t":27.85,"v":0.014},{"s":"M","t":28.2,"v":0.058},{"s":"M","t":28.7,"v":-0.004},{"s":"M","t":29.1,"v":0.078},{"s":"M","t":29.4,"v":0.04},{"s":"M","t":29.8,"v":0.091},{"s":"M","t":30.1,"v":0.011},{"s":"M","t":30.4,"v":0.068},{"s":"M","t":30.7,"v":0.03},{"s":"M","t":31,"v":0.065},{"s":"M","t":31.3,"v":0.02},{"s":"M","t":31.6,"v":0.05},{"s":"M","t":31.9,"v":0.026},{"s":"M","t":32.2,"v":0.066},{"s":"M","t":32.5,"v":0.022},{"s":"M","t":32.8,"v":0.06},{"s":"M","t":33.1,"v":0.035},{"s":"M","t":33.4,"v":0.05},{"s":"M","t":33.7,"v":0.033},{"s":"M","t":34,"v":0.046},{"s":"M","t":34.3,"v":0.03},{"s":"M","t":34.6,"v":0.045},{"s":"M","t":34.9,"v":0.036},{"s":"M","t":35.2,"v":0.062},{"s":"M","t":35.5,"v":0.028},{"s":"M","t":35.8,"v":0.048},{"s":"M","t":36.1,"v":0.026},{"s":"M","t":36.4,"v":0.062},{"s":"M","t":36.7,"v":0.038},{"s":"M","t":37,"v":0.048},{"s":"M","t":37.3,"v":0.03},{"s":"M","t":37.6,"v":0.052},{"s":"M","t":37.9,"v":0.032},{"s":"M","t":38.2,"v":0.062},{"s":"M","t":38.5,"v":0.017},{"s":"M","t":38.8,"v":0.058},{"s":"M","t":39.1,"v":0.026},{"s":"M","t":39.4,"v":0.06},{"s":"M","t":39.7,"v":0.018},{"s":"M","t":40,"v":0.054},{"s":"M","t":40.3,"v":0.03},{"s":"M","t":40.6,"v":0.056},{"s":"M","t":40.9,"v":0.022},{"s":"M","t":41.2,"v":0.05},{"s":"M","t":41.5,"v":0.012},{"s":"M","t":41.8,"v":0.048},{"s":"M","t":42.1,"v":0.022},{"s":"M","t":42.4,"v":0.066},{"s":"M","t":42.7,"v":0.026},{"s":"M","t":43,"v":0.06},{"s":"M","t":43.3,"v":0.034},{"s":"M","t":43.6,"v":0.05},{"s":"M","t":43.9,"v":0.035},{"s":"M","t":44.2,"v":0.06},{"s":"M","t":44.5,"v":0.038},{"s":"M","t":44.8,"v":0.062},{"s":"M","t":45.1,"v":0.04},{"s":"M","t":45.4,"v":0.056},{"s":"M","t":45.7,"v":0.04},{"s":"M","t":46,"v":0.052},{"s":"M","t":46.3,"v":0.04},{"s":"M","t":46.6,"v":0.024},{"s":"M","t":46.95,"v":0.084},{"s":"M","t":47.25,"v":0.048},{"s":"M","t":47.55,"v":0.066},{"s":"M","t":47.85,"v":0.044},{"s":"M","t":48.15,"v":0.063},{"s":"M","t":48.45,"v":0.038},{"s":"M","t":48.75,"v":0.058},{"s":"M","t":49.05,"v":0.034},{"s":"M","t":49.35,"v":0.06},{"s":"M","t":49.65,"v":0.026},{"s":"M","t":49.95,"v":0.055},{"s":"M","t":50.25,"v":0.034},{"s":"M","t":50.55,"v":0.052},{"s":"M","t":50.85,"v":0.03},{"s":"M","t":51.15,"v":0.05},{"s":"M","t":51.45,"v":0.034},{"s":"M","t":51.75,"v":0.048},{"s":"M","t":52.05,"v":0.03},{"s":"M","t":52.35,"v":0.052},{"s":"M","t":52.65,"v":0.032},{"s":"M","t":52.95,"v":0.048},{"s":"M","t":53.25,"v":0.034},{"s":"M","t":53.55,"v":0.05},{"s":"M","t":53.85,"v":0.03},{"s":"M","t":54.15,"v":0.054},{"s":"M","t":54.45,"v":0.034},{"s":"M","t":54.75,"v":0.048},{"s":"M","t":55.05,"v":0.024},{"s":"M","t":55.35,"v":0.048},{"s":"M","t":55.65,"v":0.032},{"s":"M","t":55.95,"v":0.048},{"s":"M","t":56.25,"v":0.034},{"s":"M","t":56.55,"v":0.05},{"s":"M","t":56.85,"v":0.03},{"s":"M","t":57.15,"v":0.052},{"s":"M","t":57.45,"v":0.034},{"s":"M","t":57.75,"v":0.048},{"s":"M","t":58.05,"v":0.034},{"s":"M","t":58.35,"v":0.046},{"s":"M","t":58.65,"v":0.032},{"s":"M","t":58.95,"v":0.046},{"s":"M","t":59.25,"v":0.034},{"s":"M","t":59.55,"v":0.048},{"s":"M","t":59.8,"v":0.032}
]
},
"vconcat": [
 {"hconcat": [
  {
   "width": 442, "height": 354,
   "title": {"text": "(a)", "dx": -47, "offset": 7},
   "data": {"name": "a"},
   "transform": [{"window": [{"op": "row_number", "as": "i"}], "groupby": ["s"]}],
   "layer": [
    {"mark": {"type": "line", "strokeJoin": "round"},
     "encoding": {
      "x": {"field": "d", "type": "quantitative", "scale": {"domain": [-0.02, 0.1], "nice": false, "zero": false},
            "axis": {"values": [-0.02, 0, 0.02, 0.04, 0.06, 0.08, 0.1], "labelExpr": "(datum.value < 0 ? '-' : '') + format(abs(datum.value), '~g')", "title": "Drift", "labelFontSize": 15, "titleFontSize": 22, "titlePadding": 1, "labelPadding": 14}},
      "y": {"field": "v", "type": "quantitative", "scale": {"domain": [-80, 10], "nice": false, "zero": false},
            "axis": {"values": [10, 0, -10, -20, -30, -40, -50, -60, -70, -80], "labelExpr": "(datum.value < 0 ? '-' : '') + format(abs(datum.value), '~g')", "title": "Vertical displacement (mm)", "labelFontSize": 15, "titleFontSize": 22, "titlePadding": 0, "labelPadding": 11}},
      "order": {"field": "i", "type": "quantitative"},
      "color": {"field": "s", "type": "nominal", "scale": {"domain": ["M", "L", "R"], "range": ["#000000", "#000000", "#000000"]},
                "legend": {"orient": "none", "legendX": 327, "legendY": 15, "padding": 4, "labelFontSize": 13, "symbolSize": 1600, "symbolType": "stroke", "rowPadding": 2, "clipHeight": 16, "labelOffset": 3, "labelExpr": "datum.label == 'M' ? 'Mid Col' : datum.label == 'L' ? 'Left Col' : 'Right Col'"}},
      "strokeDash": {"field": "s", "type": "nominal", "scale": {"domain": ["M", "L", "R"], "range": [[1, 0], [7, 4], [1, 0]]},
                "legend": {"orient": "none", "legendX": 327, "legendY": 15, "padding": 4, "labelFontSize": 13, "symbolSize": 1600, "symbolType": "stroke", "rowPadding": 2, "clipHeight": 16, "labelOffset": 3, "labelExpr": "datum.label == 'M' ? 'Mid Col' : datum.label == 'L' ? 'Left Col' : 'Right Col'"}},
      "strokeWidth": {"field": "s", "type": "ordinal", "scale": {"domain": ["M", "L", "R"], "range": [1.8, 1.5, 1]},
                "legend": {"orient": "none", "legendX": 327, "legendY": 15, "padding": 4, "labelFontSize": 13, "symbolSize": 1600, "symbolType": "stroke", "rowPadding": 2, "clipHeight": 16, "labelOffset": 3, "labelExpr": "datum.label == 'M' ? 'Mid Col' : datum.label == 'L' ? 'Left Col' : 'Right Col'"}}
     }},
    {"mark": {"type": "point", "opacity": 0},
     "encoding": {
      "x": {"field": "d", "type": "quantitative", "axis": {"orient": "top", "labels": false, "values": [-0.02, 0, 0.02, 0.04, 0.06, 0.08, 0.1], "title": "Vertical displacement v/s Time", "titleFontSize": 22, "titlePadding": 0}},
      "y": {"field": "v", "type": "quantitative", "axis": {"orient": "right", "labels": false, "values": [10, 0, -10, -20, -30, -40, -50, -60, -70, -80], "title": null}}
     }}
   ],
   "resolve": {"axis": {"x": "independent", "y": "independent"}}
  },
  {
   "width": 447, "height": 355,
   "title": {"text": "(b)", "dx": -10, "offset": 7},
   "data": {"name": "b"},
   "layer": [
    {"mark": {"type": "line", "strokeJoin": "round"},
     "encoding": {
      "x": {"field": "t", "type": "quantitative", "scale": {"domain": [0, 60], "nice": false},
            "axis": {"values": [0, 10, 20, 30, 40, 50, 60], "title": "Time (seconds)", "labelFontSize": 15, "titleFontSize": 22, "titlePadding": 1, "labelPadding": 14}},
      "y": {"field": "v", "type": "quantitative", "scale": {"domain": [0, 400], "nice": false},
            "axis": {"values": [0, 50, 100, 150, 200, 250, 300, 350, 400], "title": "Axial Load (kN)", "labelFontSize": 15, "titleFontSize": 22, "titlePadding": 12, "labelPadding": 11}},
      "color": {"field": "s", "type": "nominal", "scale": {"domain": ["M", "L", "R"], "range": ["#000000", "#333333", "#9a9a9a"]},
                "legend": {"orient": "none", "legendX": 302, "legendY": 14, "padding": 4, "labelFontSize": 13, "symbolSize": 1764, "symbolType": "stroke", "rowPadding": 2, "clipHeight": 16, "labelOffset": 3, "labelExpr": "datum.label == 'M' ? 'Mid col axial' : datum.label == 'L' ? 'left col axial' : 'right col axial'"}},
      "strokeDash": {"field": "s", "type": "nominal", "scale": {"domain": ["M", "L", "R"], "range": [[1, 0], [7, 4], [1, 0]]},
                "legend": {"orient": "none", "legendX": 302, "legendY": 14, "padding": 4, "labelFontSize": 13, "symbolSize": 1764, "symbolType": "stroke", "rowPadding": 2, "clipHeight": 16, "labelOffset": 3, "labelExpr": "datum.label == 'M' ? 'Mid col axial' : datum.label == 'L' ? 'left col axial' : 'right col axial'"}},
      "strokeWidth": {"field": "s", "type": "ordinal", "scale": {"domain": ["M", "L", "R"], "range": [1.5, 1.3, 1]},
                "legend": {"orient": "none", "legendX": 302, "legendY": 14, "padding": 4, "labelFontSize": 13, "symbolSize": 1764, "symbolType": "stroke", "rowPadding": 2, "clipHeight": 16, "labelOffset": 3, "labelExpr": "datum.label == 'M' ? 'Mid col axial' : datum.label == 'L' ? 'left col axial' : 'right col axial'"}}
     }},
    {"mark": {"type": "point", "opacity": 0},
     "encoding": {
      "x": {"field": "t", "type": "quantitative", "axis": {"orient": "top", "labels": false, "values": [0, 10, 20, 30, 40, 50, 60], "title": "Axial load v/s Time", "titleFontSize": 22, "titlePadding": 0}},
      "y": {"field": "v", "type": "quantitative", "axis": {"orient": "right", "labels": false, "values": [0, 50, 100, 150, 200, 250, 300, 350, 400], "title": null}}
     }}
   ],
   "resolve": {"axis": {"x": "independent", "y": "independent"}}
  }
 ],
 "spacing": 21,
 "resolve": {"scale": {"color": "independent", "strokeDash": "independent", "strokeWidth": "independent"}, "legend": {"color": "independent", "strokeDash": "independent", "strokeWidth": "independent"}}
 },
 {"hconcat": [
  {"width": 52, "height": 1, "view": {"stroke": null}, "data": {"values": [{}]}, "mark": {"type": "point", "opacity": 0}},
  {
  "width": 759, "height": 321,
  "view": {"stroke": "#666666"},
  "title": {"text": "(c)", "dx": -16, "offset": 12},
  "data": {"name": "c"},
  "layer": [
   {"mark": {"type": "line", "strokeJoin": "round"},
    "encoding": {
     "x": {"field": "t", "type": "quantitative", "scale": {"domain": [0, 60], "nice": false},
           "axis": {"values": [0, 10, 20, 30, 40, 50, 60], "title": "Time (seconds)", "labelFontSize": 13, "titleFontSize": 17, "titlePadding": 0, "labelPadding": 11, "labelFont": "Liberation Sans Narrow, Arial Narrow, Liberation Sans", "titleFont": "Liberation Sans Narrow, Arial Narrow, Liberation Sans", "tickColor": "#555555"}},
     "y": {"field": "v", "type": "quantitative", "scale": {"domain": [-0.02, 0.1], "nice": false, "zero": false},
           "axis": {"values": [-0.02, 0, 0.02, 0.04, 0.06, 0.08, 0.1], "labelExpr": "(datum.value < 0 ? '-' : '') + format(abs(datum.value), '.2f')", "title": "Drift", "titleFontWeight": "bold", "labelFontSize": 13, "titleFontSize": 16, "titlePadding": 4, "labelFont": "Liberation Sans Narrow, Arial Narrow, Liberation Sans", "titleFont": "Liberation Sans", "tickColor": "#555555"}},
     "color": {"field": "s", "type": "nominal", "scale": {"domain": ["M", "L", "R"], "range": ["#222222", "#333333", "#909090"]},
               "legend": {"orient": "none", "legendX": 771, "legendY": 6, "padding": 4, "labelFontSize": 11, "labelFont": "Liberation Sans Narrow, Arial Narrow, Liberation Sans", "symbolSize": 225, "symbolType": "stroke", "rowPadding": 3, "clipHeight": 14, "labelOffset": 2, "strokeColor": "#555555", "labelExpr": "datum.label == 'M' ? 'Mid col drift' : datum.label == 'L' ? 'left col drift' : 'right col drift'"}},
     "strokeDash": {"field": "s", "type": "nominal", "scale": {"domain": ["M", "L", "R"], "range": [[1, 0], [4, 2], [1, 0]]},
               "legend": {"orient": "none", "legendX": 771, "legendY": 6, "padding": 4, "labelFontSize": 11, "labelFont": "Liberation Sans Narrow, Arial Narrow, Liberation Sans", "symbolSize": 225, "symbolType": "stroke", "rowPadding": 3, "clipHeight": 14, "labelOffset": 2, "strokeColor": "#555555", "labelExpr": "datum.label == 'M' ? 'Mid col drift' : datum.label == 'L' ? 'left col drift' : 'right col drift'"}},
     "strokeWidth": {"field": "s", "type": "ordinal", "scale": {"domain": ["M", "L", "R"], "range": [1, 1, 1]},
               "legend": {"orient": "none", "legendX": 771, "legendY": 6, "padding": 4, "labelFontSize": 11, "labelFont": "Liberation Sans Narrow, Arial Narrow, Liberation Sans", "symbolSize": 225, "symbolType": "stroke", "rowPadding": 3, "clipHeight": 14, "labelOffset": 2, "strokeColor": "#555555", "labelExpr": "datum.label == 'M' ? 'Mid col drift' : datum.label == 'L' ? 'left col drift' : 'right col drift'"}}
    }},
   {"mark": {"type": "point", "opacity": 0},
    "encoding": {
     "x": {"field": "t", "type": "quantitative", "axis": {"orient": "top", "labels": false, "values": [0, 10, 20, 30, 40, 50, 60], "title": "Drift v/s Time", "titleFontSize": 18, "titlePadding": 4, "titleFont": "Liberation Sans Narrow, Arial Narrow, Liberation Sans", "tickColor": "#555555"}},
     "y": {"field": "v", "type": "quantitative", "axis": {"orient": "right", "labels": false, "values": [-0.02, 0, 0.02, 0.04, 0.06, 0.08, 0.1], "title": null, "tickColor": "#555555"}}
    }}
  ],
  "resolve": {"axis": {"x": "independent", "y": "independent"}}
  }
 ],
 "spacing": 0
 }
],
"spacing": 11,
"resolve": {"scale": {"color": "independent", "strokeDash": "independent", "strokeWidth": "independent"}, "legend": {"color": "independent", "strokeDash": "independent", "strokeWidth": "independent"}}
}
